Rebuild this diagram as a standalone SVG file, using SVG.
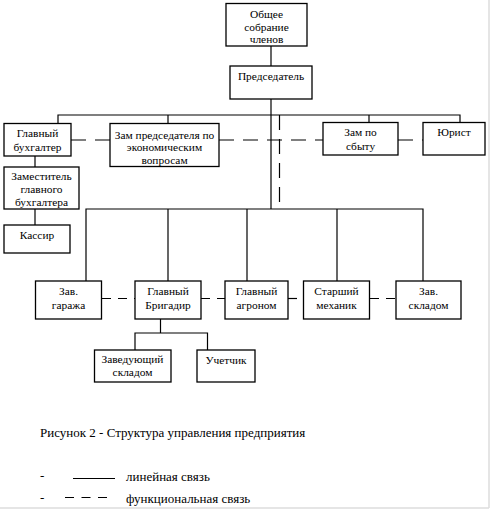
<svg xmlns="http://www.w3.org/2000/svg" width="491" height="510" viewBox="0 0 491 510" font-family="'Liberation Serif', 'Times New Roman', serif">
<style>
.box{fill:#fff;stroke:#000;stroke-width:1.3}
.ln{fill:none;stroke:#000;stroke-width:1.2}
.dl{fill:none;stroke:#000;stroke-width:1.2;stroke-dasharray:15,9}
.dd{fill:none;stroke:#000;stroke-width:1.2;stroke-dasharray:9,7}
.t{font-family:'Liberation Serif','Times New Roman',serif;font-size:11.4px;fill:#000;text-anchor:middle}
.cap{font-family:'Liberation Serif','Times New Roman',serif;font-size:13px;fill:#000;text-anchor:start}
</style>
<rect x="0" y="0" width="491" height="510" fill="#fff"/>
<line x1="489" y1="0" x2="489" y2="508" stroke="#ddd" stroke-width="1.5"/>
<line x1="0" y1="508" x2="489" y2="508" stroke="#ddd" stroke-width="1.5"/>
<g id="connectors">
<line class="ln" x1="271" y1="46" x2="271" y2="66"/>
<line class="ln" x1="271" y1="99" x2="271" y2="209"/>
<polyline class="ln" points="58,123 58,115 460,115 460,122"/>
<line class="ln" x1="168" y1="115" x2="168" y2="123"/>
<line class="ln" x1="369" y1="115" x2="369" y2="122"/>
<line class="dl" x1="279.5" y1="115" x2="279.5" y2="209"/>
<line class="dl" x1="71" y1="140" x2="110" y2="140"/>
<line class="dl" x1="219" y1="140" x2="323" y2="140"/>
<line class="dl" x1="398" y1="140" x2="423" y2="140"/>
<line class="ln" x1="35" y1="156" x2="35" y2="167"/>
<line class="ln" x1="35" y1="209" x2="35" y2="225"/>
<polyline class="ln" points="86,281 86,209 423,209 423,281"/>
<line class="ln" x1="168" y1="209" x2="168" y2="281"/>
<line class="ln" x1="247" y1="209" x2="247" y2="281"/>
<line class="ln" x1="337" y1="209" x2="337" y2="281"/>
<line class="dd" x1="102" y1="298.5" x2="135" y2="298.5"/>
<line class="dd" x1="201" y1="298.5" x2="225" y2="298.5"/>
<line class="dd" x1="288" y1="298.5" x2="303" y2="298.5"/>
<line class="dd" x1="370" y1="298.5" x2="396" y2="298.5"/>
<line class="ln" x1="160.5" y1="319" x2="160.5" y2="333"/>
<polyline class="ln" points="135,350 135,333 207.5,333 207.5,350"/>
</g>
<g id="n-obshchee"><rect class="box" x="226" y="3.5" width="81" height="42.5"/><text class="t" x="266.5" y="18">Общее</text><text class="t" x="266.5" y="30.5">собрание</text><text class="t" x="266.5" y="42.5">членов</text></g>
<g id="n-predsedatel"><rect class="box" x="230" y="66" width="82" height="33"/><text class="t" x="271" y="80">Председатель</text></g>
<g id="n-glbuh"><rect class="box" x="4" y="123.5" width="67" height="32.5"/><text class="t" x="37.5" y="137">Главный</text><text class="t" x="37.5" y="150.5">бухгалтер</text></g>
<g id="n-zampred"><rect class="box" x="110" y="123.5" width="109" height="43"/><text class="t" x="164.5" y="139">Зам председателя по</text><text class="t" x="164.5" y="151">экономическим</text><text class="t" x="164.5" y="163.5">вопросам</text></g>
<g id="n-zamsbyt"><rect class="box" x="323" y="122.5" width="75" height="32.5"/><text class="t" x="360.5" y="136">Зам по</text><text class="t" x="360.5" y="149.5">сбыту</text></g>
<g id="n-yurist"><rect class="box" x="423" y="122.5" width="62" height="32.5"/><text class="t" x="454" y="136">Юрист</text></g>
<g id="n-zamglbuh"><rect class="box" x="4" y="167" width="75" height="42"/><text class="t" x="41.5" y="180">Заместитель</text><text class="t" x="41.5" y="193">главного</text><text class="t" x="41.5" y="205.5">бухгалтера</text></g>
<g id="n-kassir"><rect class="box" x="4" y="225" width="66" height="28"/><text class="t" x="37" y="239">Кассир</text></g>
<g id="n-zavgar"><rect class="box" x="35.5" y="281" width="66" height="38"/><text class="t" x="68.5" y="295">Зав.</text><text class="t" x="68.5" y="309">гаража</text></g>
<g id="n-glbrig"><rect class="box" x="135" y="281" width="66" height="38"/><text class="t" x="168" y="295">Главный</text><text class="t" x="168" y="309">Бригадир</text></g>
<g id="n-glagr"><rect class="box" x="225" y="281" width="63" height="38"/><text class="t" x="256.5" y="295">Главный</text><text class="t" x="256.5" y="309">агроном</text></g>
<g id="n-stmeh"><rect class="box" x="303.5" y="281" width="66" height="38"/><text class="t" x="336.5" y="295">Старший</text><text class="t" x="336.5" y="309">механик</text></g>
<g id="n-zavsklad"><rect class="box" x="396" y="281" width="65" height="38"/><text class="t" x="428.5" y="295">Зав.</text><text class="t" x="428.5" y="309">складом</text></g>
<g id="n-zavedsklad"><rect class="box" x="94.5" y="350" width="76.5" height="32"/><text class="t" x="132.5" y="363">Заведующий</text><text class="t" x="132.5" y="375.5">складом</text></g>
<g id="n-uchetchik"><rect class="box" x="197" y="350" width="58" height="32"/><text class="t" x="226" y="364">Учетчик</text></g>
<text class="cap" x="40" y="437">Рисунок 2 - Структура управления предприятия</text>
<text class="cap" x="40" y="480">-</text>
<line x1="73" y1="478.5" x2="115" y2="478.5" stroke="#000" stroke-width="1.2"/>
<text class="cap" x="126" y="481">линейная связь</text>
<text class="cap" x="40" y="502">-</text>
<line x1="65" y1="497.5" x2="107" y2="497.5" stroke="#000" stroke-width="1.2" stroke-dasharray="9,7.5"/>
<text class="cap" x="126" y="503">функциональная связь</text>
</svg>
